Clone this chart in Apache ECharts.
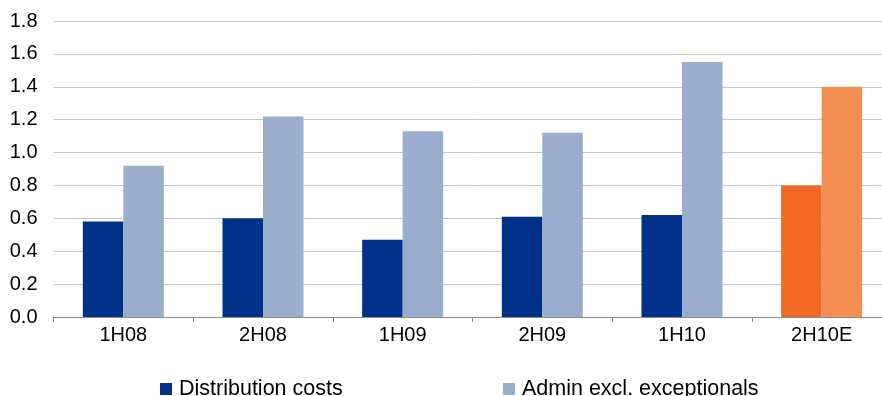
<!DOCTYPE html>
<html>
<head>
<meta charset="utf-8">
<script src="https://cdn.jsdelivr.net/npm/echarts@6/dist/echarts.min.js"></script>
<style>
  html, body { margin: 0; padding: 0; background: #ffffff; overflow: hidden; }
  /* The plot runs slightly past the right edge of the page */
  #chart { width: 900px; height: 396px; }
</style>
</head>
<body>
<div id="chart"></div>
<script>
// Half-year periods (last one is an estimate)
const categories = ['1H08', '2H08', '1H09', '2H09', '1H10', '2H10E'];
const distributionCosts = [0.58, 0.60, 0.47, 0.61, 0.62, 0.80];
const adminExclExceptionals = [0.92, 1.22, 1.13, 1.12, 1.55, 1.40];
const yTicks = { min: 0, max: 1.8, step: 0.2 };

const NAVY = '#003087';
const LIGHT_BLUE = '#9BADCD';
const ORANGE = '#F26724';
const LIGHT_ORANGE = '#F58E53';
const FONT = 'Liberation Sans, Arial, sans-serif';

// The estimate period is highlighted in orange tones
const estimateIndex = categories.length - 1;
function withHighlight(values, color) {
  return values.map((v, i) => i === estimateIndex
    ? { value: v, itemStyle: { color: color } }
    : v);
}

const legendText = { fontSize: 21.5, color: '#000', fontFamily: FONT, padding: [0, 0, 0, 2] };

const chart = echarts.init(document.getElementById('chart'), null, { renderer: 'canvas' });
chart.setOption({
  animation: false,
  backgroundColor: '#ffffff',
  textStyle: { fontFamily: FONT },
  grid: { left: 53.5, top: 21, width: 838, height: 296, containLabel: false },
  legend: [
    {
      data: ['Distribution costs'],
      left: 155, top: 373,
      icon: 'rect', itemWidth: 12, itemHeight: 12, itemGap: 0,
      textStyle: legendText
    },
    {
      data: ['Admin excl. exceptionals'],
      left: 498, top: 373,
      icon: 'rect', itemWidth: 12, itemHeight: 12, itemGap: 0,
      textStyle: legendText
    }
  ],
  xAxis: {
    type: 'category',
    data: categories,
    axisLine: { lineStyle: { color: '#8c8c8c', width: 1 } },
    axisTick: { show: true, length: 5, lineStyle: { color: '#8c8c8c' } },
    axisLabel: { fontSize: 20, color: '#000', margin: 8, fontFamily: FONT },
    splitLine: { show: false }
  },
  yAxis: {
    type: 'value',
    min: yTicks.min,
    max: yTicks.max,
    interval: yTicks.step,
    axisLine: { show: false },
    axisTick: { show: false },
    axisLabel: {
      fontSize: 20, color: '#000', margin: 16, fontFamily: FONT,
      formatter: v => v.toFixed(1)
    },
    splitLine: { lineStyle: { color: '#c6c6c6', width: 1 } }
  },
  series: [
    {
      name: 'Distribution costs',
      type: 'bar',
      data: withHighlight(distributionCosts, ORANGE),
      itemStyle: { color: NAVY },
      barWidth: 40.5,
      barGap: '0%'
    },
    {
      name: 'Admin excl. exceptionals',
      type: 'bar',
      data: withHighlight(adminExclExceptionals, LIGHT_ORANGE),
      itemStyle: { color: LIGHT_BLUE },
      barWidth: 40.5,
      barGap: '0%'
    }
  ]
});
</script>
</body>
</html>
